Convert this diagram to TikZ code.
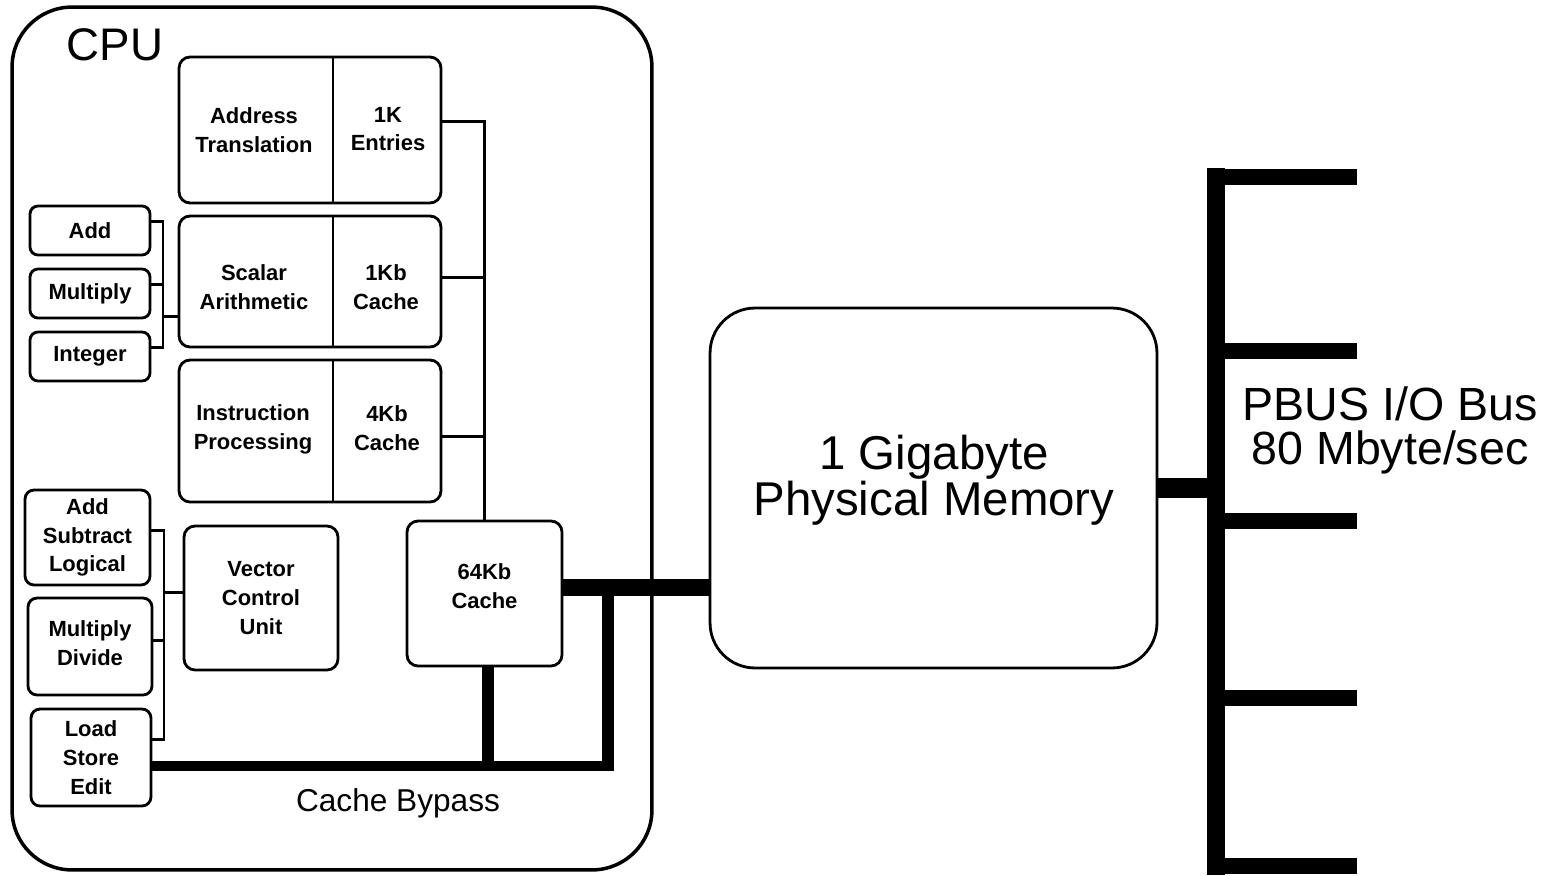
\documentclass[tikz,border=0pt]{standalone}
\usepackage{fontspec}
\setmainfont{Liberation Sans}
\usetikzlibrary{calc}
\begin{document}
\begin{tikzpicture}[x=0.02cm,y=-0.02cm,
  box/.style={draw,line width=1.6pt,rounded corners=0.22cm,inner sep=0pt,outer sep=0pt},
  lbl/.style={align=center,font=\fontsize{12.5}{16.4}\selectfont\bfseries,inner sep=0pt},
  wire/.style={line width=1.7pt},
  bypass/.style={line width=6pt},
  fatwire/.style={line width=10pt},
  bus/.style={line width=10pt},
  biglbl/.style={align=center,inner sep=0pt}
]
\useasboundingbox (0,0) rectangle (1557,875);

% CPU enclosure
\node[draw,line width=2pt,rounded corners=1.2cm,minimum width=12.8cm,minimum height=17.26cm,inner sep=0pt] (cpu) at (332,438.5) {};
\node[biglbl,font=\fontsize{26}{26}\selectfont] (cpulbl) at (115,45) {CPU};

% split boxes
\node[box,minimum width=5.24cm,minimum height=2.92cm] (at) at (310,130) {};
\node[box,minimum width=5.24cm,minimum height=2.62cm] (sa) at (310,281.5) {};
\node[box,minimum width=5.24cm,minimum height=2.84cm] (ip) at (310,431) {};
\foreach \b in {at,sa,ip}{
  \draw[line width=1.4pt] ($(\b.north west)!0.588!(\b.north east)$) -- ($(\b.south west)!0.588!(\b.south east)$);
}
\node[lbl] (atl) at (254,130) {Address\\Translation};
\node[lbl] (atr) at (388,129) {1K\\Entries};
\node[lbl] (sal) at (254,287) {Scalar\\Arithmetic};
\node[lbl] (sar) at (386,287) {1Kb\\Cache};
\node[lbl] (ipl) at (253,429) {Instruction\\Processing};
\node[lbl] (ipr) at (387,428) {4Kb\\Cache};

% scalar units
\node[box,minimum width=2.4cm,minimum height=0.98cm,rounded corners=0.16cm] (add) at (90,230.5) {};
\node[box,minimum width=2.4cm,minimum height=0.98cm,rounded corners=0.16cm] (mul) at (90,293.5) {};
\node[box,minimum width=2.4cm,minimum height=0.98cm,rounded corners=0.16cm] (int) at (90,356.5) {};
\node[lbl] at (add) {Add};
\node[lbl] at (mul) {Multiply};
\node[lbl] at (int) {Integer};

% vector units
\node[box,minimum width=2.5cm,minimum height=1.9cm,rounded corners=0.18cm] (asl) at (87.5,537.5) {};
\node[box,minimum width=2.48cm,minimum height=1.94cm,rounded corners=0.18cm] (md) at (90,646.5) {};
\node[box,minimum width=2.4cm,minimum height=1.94cm,rounded corners=0.18cm] (lse) at (91,757.5) {};
\node[lbl] at (asl) {Add\\Subtract\\Logical};
\node[lbl] at ([yshift=2pt]md.center) {Multiply\\Divide};
\node[lbl] at (lse) {Load\\Store\\Edit};

\node[box,minimum width=3.08cm,minimum height=2.88cm] (vcu) at (261,598) {};
\node[lbl] at (vcu) {Vector\\Control\\Unit};
\node[box,minimum width=3.1cm,minimum height=2.9cm] (cache) at (484.5,593.5) {};
\node[lbl] at ([yshift=4pt]cache.center) {64Kb\\Cache};

% memory
\node[draw,line width=1.6pt,rounded corners=0.9cm,minimum width=8.94cm,minimum height=7.2cm,inner sep=0pt] (mem) at (933.5,488) {};
\node[biglbl,font=\fontsize{27}{26}\selectfont] at (934,480) {1 Gigabyte\\Physical Memory};

% scalar bracket
\coordinate (sx) at (163,0);
\draw[wire] ([yshift=5pt]add.east) -| ([yshift=5pt]int.east -| sx) -- ([yshift=5pt]int.east);
\draw[wire] ([yshift=5pt]mul.east) -- ([yshift=5pt]mul.east -| sx);
\draw[wire] ([yshift=-20pt]sa.west -| sx) -- ([yshift=-20pt]sa.west);

% vector bracket
\coordinate (vx) at (164,0);
\draw[wire] ([yshift=4pt]asl.east) -| ([yshift=10pt]lse.east -| vx) -- ([yshift=10pt]lse.east);
\draw[wire] ([yshift=3.5pt]md.east) -- ([yshift=3.5pt]md.east -| vx);
\draw[wire] ([yshift=3pt]vcu.west -| vx) -- ([yshift=3pt]vcu.west);

% internal cache bus
\draw[wire] ([yshift=5pt]at.east) -| (cache.north);
\draw[wire] ([yshift=2pt]sa.east) -- ([yshift=2pt]sa.east -| cache.north);
\draw[wire] ([yshift=-3pt]ip.east) -- ([yshift=-3pt]ip.east -| cache.north);

% cache to memory
\coordinate (cm) at ([yshift=3.5pt]cache.east);
\draw[fatwire] (cm) -- (cm -| mem.west);

% cache bypass
\coordinate (bpr) at (608,766);
\coordinate (bpl) at (lse.east |- bpr);
\draw[bypass] (bpl) -- (bpr);
\draw[line width=7pt] ([xshift=2pt]cache.south) -- ([xshift=2pt]cache.south |- bpr);
\draw[line width=7pt] (cm -| bpr) -- ([yshift=-3pt]bpr);
\node[biglbl,font=\fontsize{18}{18}\selectfont] (cbl) at (398,803) {Cache Bypass};

% PBUS
\coordinate (bt) at (1216,168);
\coordinate (bb) at (1216,875);
\draw[bus] (bt) -- (bb);
\foreach \n/\y in {1/177,2/351,3/521,4/698,5/866}{
  \coordinate (bl\n) at (1207,\y);
  \coordinate (br\n) at (1357,\y);
  \draw[line width=9.6pt] (bl\n) -- (br\n);
}
\draw[line width=11pt] (mem.east) -- (mem.east -| bt);
\node[biglbl,font=\fontsize{26.5}{25}\selectfont] (pbus) at (1390,430) {PBUS I/O Bus\\80 Mbyte/sec};
\end{tikzpicture}
\end{document}
